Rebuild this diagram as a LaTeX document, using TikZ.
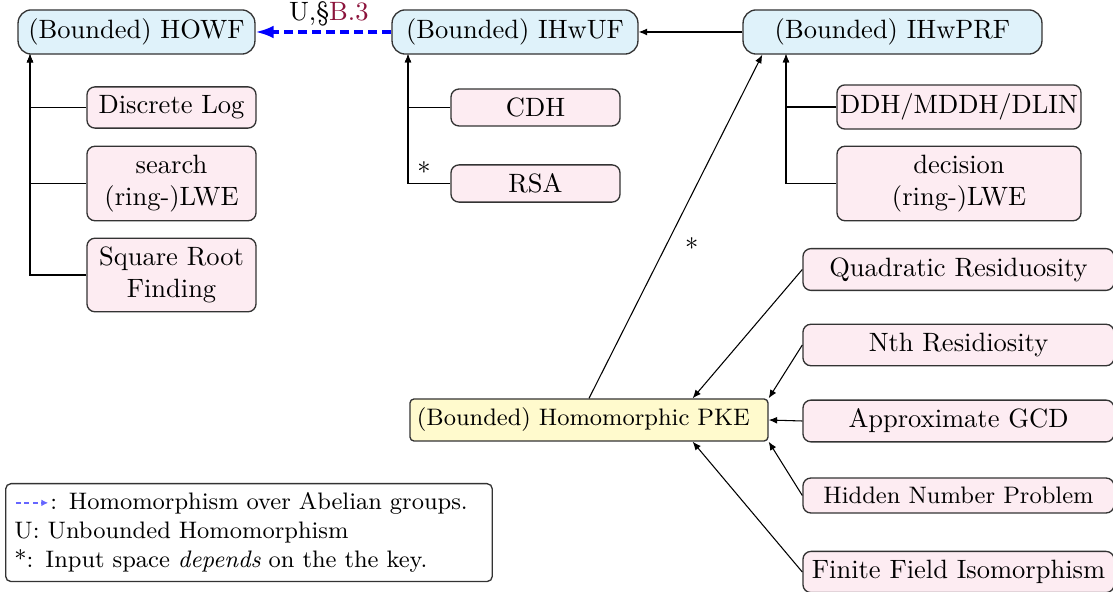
\documentclass[tikz,border=0pt]{standalone}
\usetikzlibrary{arrows.meta,calc}
\definecolor{bluefill}{RGB}{223,242,250}
\definecolor{pinkfill}{RGB}{253,236,242}
\definecolor{yellowfill}{RGB}{255,250,205}
\definecolor{linkred}{RGB}{140,20,60}
\tikzset{
  basebox/.style={draw=black!80, line width=0.5pt, inner sep=3.33pt, align=center},
  topbox/.style={basebox, fill=bluefill, rounded corners=5pt},
  pinkbox/.style={basebox, fill=pinkfill, rounded corners=3pt},
  pkebox/.style={basebox, fill=yellowfill, rounded corners=1.5pt, font=\small},
  legbox/.style={draw=black!80, line width=0.5pt, rounded corners=2pt, align=left, inner sep=3.33pt, font=\small},
  tip/.style={-{Latex[length=3.2pt,width=2.6pt]}, line width=0.4pt},
  homarrow/.style={blue, line width=1.15pt, dash pattern=on 3.5pt off 1.8pt, -{Latex[length=6.8pt,width=4.8pt]}},
  legarrow/.style={blue!60, line width=0.65pt, dash pattern=on 1.9pt off 1.3pt, -{Latex[length=2.6pt,width=2.6pt]}},
}
\begin{document}
\begin{tikzpicture}[x=0.3774pt,y=-0.3774pt]
\useasboundingbox (0,0) rectangle (1113,592);

% top row
\node[topbox, minimum width=89.4pt] (howf) at (136.5,32) {(Bounded) HOWF};
\node[topbox, minimum width=92.8pt] (ihwuf) at (515,32) {(Bounded) IHwUF};
\node[topbox, minimum width=112.8pt] (ihwprf) at (892.5,32) {(Bounded) IHwPRF};

% left column
\node[pinkbox, minimum width=63.8pt] (dl) at (171.5,107.5) {Discrete Log};
\node[pinkbox, minimum width=63.8pt] (slwe) at (171.5,183.5) {search\\(ring-)LWE};
\node[pinkbox, minimum width=63.8pt] (srf) at (171.5,275) {Square Root\\Finding};

% middle column
\node[pinkbox, minimum width=63.8pt] (cdh) at (535.5,107.5) {CDH};
\node[pinkbox, minimum width=63.8pt] (rsa) at (535.5,183.5) {RSA};

% right column
\node[pinkbox, minimum width=92.1pt, inner xsep=1pt] (ddh) at (959,107) {DDH/MDDH/DLIN};
\node[pinkbox, minimum width=92.1pt, inner xsep=1pt] (dlwe) at (959,183.5) {decision\\(ring-)LWE};

% PKE
\node[pkebox, text width=129.9pt, inner xsep=2.6pt, align=left, minimum height=15.85pt] (pke) at (589,420) {(Bounded) Homomorphic PKE};

% right lower column
\node[pinkbox, minimum width=117.4pt] (qr) at (958.5,269.5) {Quadratic Residuosity};
\node[pinkbox, minimum width=117.4pt] (nr) at (958.5,345) {Nth Residiosity};
\node[pinkbox, minimum width=117.4pt] (agcd) at (958.5,421) {Approximate GCD};
\node[pinkbox, minimum width=117.4pt, minimum height=13.2pt, font=\small] (hnp) at (958.5,495.5) {Hidden Number Problem};
\node[pinkbox, minimum width=117.4pt] (ffi) at (958.5,572) {Finite Field Isomorphism};

% legend
\node[legbox, anchor=north west, text width=177pt] (leg) at (5,483) {\hspace*{13.5pt}: Homomorphism over Abelian groups.\\U: Unbounded Homomorphism\\{*}: Input space \emph{depends} on the the key.};
\coordinate (la) at ([xshift=4.1pt,yshift=-7.5pt]leg.north west);
\coordinate (lb) at ([xshift=16.3pt,yshift=-7.5pt]leg.north west);
\draw[legarrow] (la) -- (lb);

% tree bars
\coordinate (hb) at (30,54);
\coordinate (ub) at (408,54);
\coordinate (pb) at (786,54);

\draw[tip] (dl.west) -| (hb);
\draw[tip] (slwe.west) -| (hb);
\draw[tip] (srf.west) -| (hb);

\draw[tip] (cdh.west) -| (ub);
\draw[tip] (rsa.west) -| (ub) node[pos=0.5, anchor=base, xshift=6pt, yshift=0.6pt] {*};

\draw[tip] (ddh.west) -| (pb);
\draw[tip] (dlwe.west) -| (pb);

% top connectors
\draw[tip] (ihwprf.west) -- (ihwuf.east);
\draw[homarrow] (ihwuf.west) -- node[above, inner sep=1.5pt, xshift=2pt, text=black] {U,\S\textcolor{linkred}{B.3}} (howf.east);

% PKE to IHwPRF
\draw[tip] (pke.north) -- node[pos=0.44, right, xshift=4pt] {*} ([xshift=7.5pt]ihwprf.south west);

% into PKE
\draw[tip] (qr.west) -- ([xshift=-28.7pt]pke.north east);
\draw[tip] (nr.west) -- (pke.north east);
\draw[tip] (agcd.west) -- (pke.east);
\draw[tip] (hnp.west) -- (pke.south east);
\draw[tip] (ffi.west) -- ([xshift=-28.7pt]pke.south east);
\end{tikzpicture}
\end{document}
